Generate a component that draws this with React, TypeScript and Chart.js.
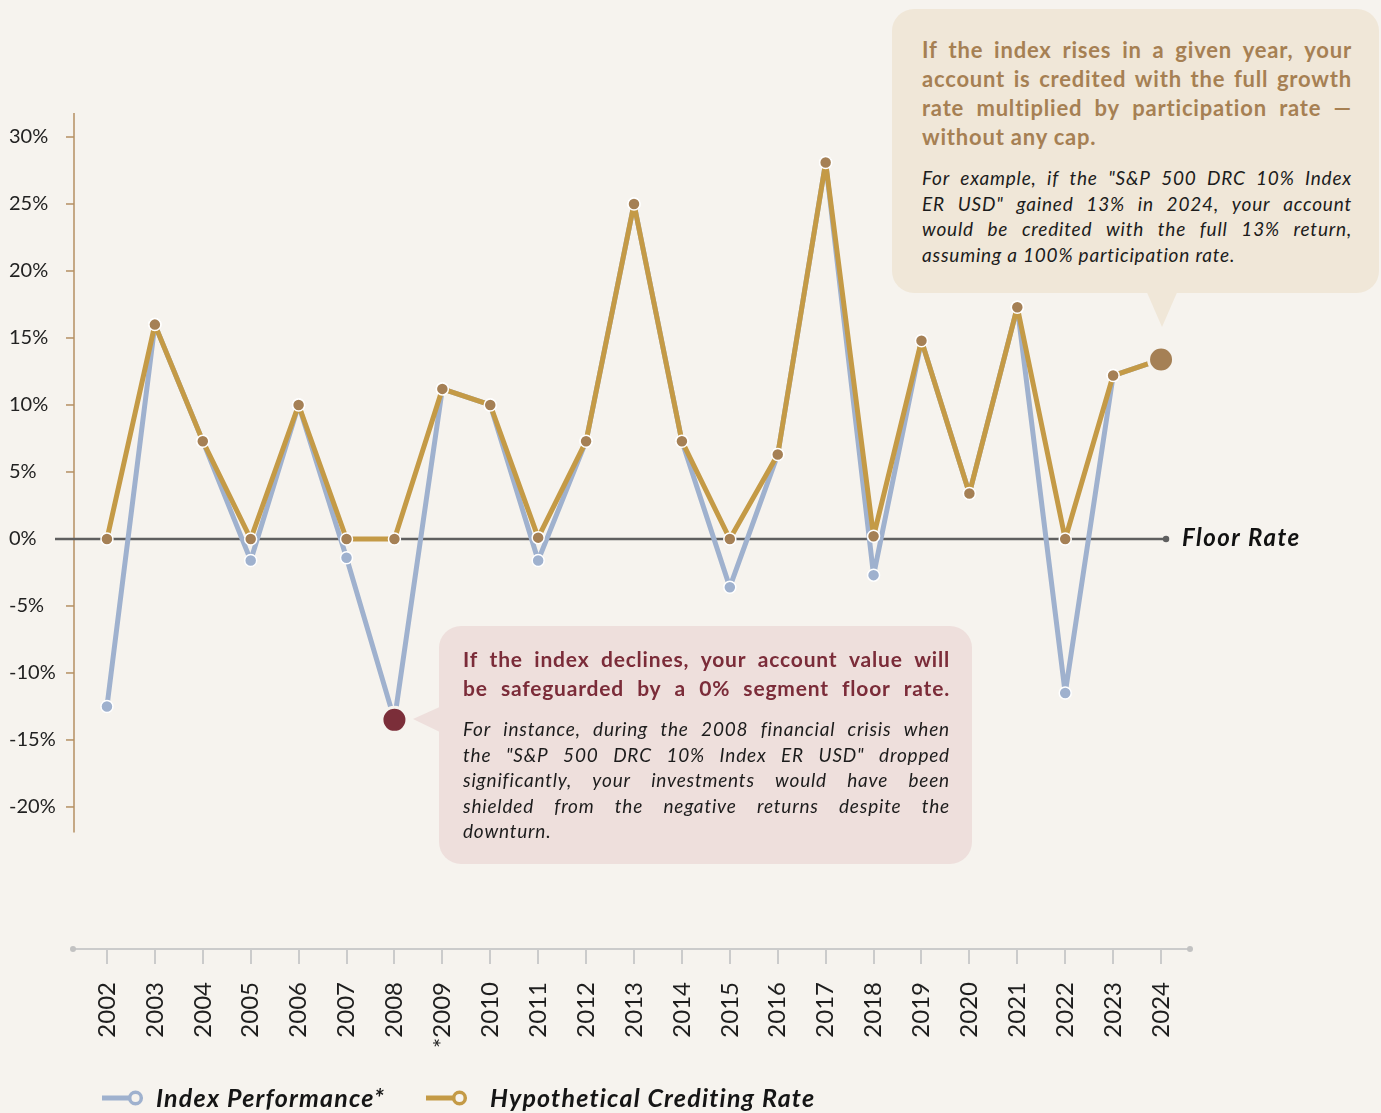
import React, { useEffect, useRef } from 'react';
import { Chart, registerables } from 'chart.js';

Chart.register(...registerables);

// ---------- data ----------
const years = [
  '2002', '2003', '2004', '2005', '2006', '2007', '2008', '*2009', '2010', '2011', '2012',
  '2013', '2014', '2015', '2016', '2017', '2018', '2019', '2020', '2021', '2022', '2023', '2024',
];
const indexPerformance = [
  -12.5, 16.0, 7.3, -1.6, 10.0, -1.4, -13.5, 11.2, 10.0, -1.6, 7.3,
  25.0, 7.3, -3.6, 6.3, 28.1, -2.7, 14.8, 3.4, 17.3, -11.5, 12.2, 13.4,
];
const creditingRate = [
  0, 16.0, 7.3, 0, 10.0, 0, 0, 11.2, 10.0, 0.1, 7.3,
  25.0, 7.3, 0, 6.3, 28.1, 0.2, 14.8, 3.4, 17.3, 0, 12.2, 13.4,
];
const yTickValues = [-20, -15, -10, -5, 0, 5, 10, 15, 20, 25, 30];
const declineHighlightYear = '2008';
const riseHighlightYear = '2024';
const seriesNames = ['Index Performance*', 'Hypothetical Crediting Rate'];
const floorLabel = 'Floor Rate';

const riseTitle = [
  'If the index rises in a given year, your',
  'account is credited with the full growth',
  'rate multiplied by participation rate —',
  'without any cap.',
];
const riseBody = [
  'For example, if the "S&P 500 DRC 10% Index',
  'ER USD" gained 13% in 2024, your account',
  'would be credited with the full 13% return,',
  'assuming a 100% participation rate.',
];
const declineTitle = [
  'If the index declines, your account value will',
  'be safeguarded by a 0% segment floor rate.',
];
const declineBody = [
  'For instance, during the 2008 financial crisis when',
  'the "S&P 500 DRC 10% Index ER USD" dropped',
  'significantly, your investments would have been',
  'shielded from the negative returns despite the',
  'downturn.',
];

// ---------- styling ----------
const BG = '#f6f3ee';
const BLUE = '#9fb1ce';
const GOLD_LINE = '#c49a46';
const GOLD_DOT = '#a58055';
const RED_DOT = '#7b2e39';
const AXIS_TAN = '#b48f62';
const FONT = 'Lato, "Open Sans", sans-serif';
const Y_AXIS_TOP = 31.8;
const Y_AXIS_BOTTOM = -21.9;

function JLine({ text, justify }: { text: string; justify: boolean }) {
  if (!justify) return <div style={{ whiteSpace: 'nowrap' }}>{text}</div>;
  const words = text.split(' ');
  return (
    <div style={{ display: 'flex', justifyContent: 'space-between', whiteSpace: 'nowrap' }}>
      {words.map((w, i) => (
        <span key={i}>{w}</span>
      ))}
    </div>
  );
}

function Block({ lines, lastJustify, style }: { lines: string[]; lastJustify: boolean; style: React.CSSProperties }) {
  return (
    <div style={{ position: 'absolute', ...style }}>
      {lines.map((l, i) => (
        <JLine key={i} text={l} justify={i < lines.length - 1 || lastJustify} />
      ))}
    </div>
  );
}

const decorPlugin = {
  id: 'decor',
  beforeDatasetsDraw(chart: any) {
    const { ctx, chartArea, scales } = chart;
    const y = scales.y;
    const x = scales.x;
    ctx.save();
    // y axis line + ticks
    const ax = chartArea.left - 9;
    ctx.strokeStyle = AXIS_TAN;
    ctx.lineWidth = 1.5;
    ctx.beginPath();
    ctx.moveTo(ax, y.getPixelForValue(Y_AXIS_TOP));
    ctx.lineTo(ax, y.getPixelForValue(Y_AXIS_BOTTOM));
    ctx.stroke();
    y.ticks.forEach((t: any) => {
      const py = y.getPixelForValue(t.value);
      ctx.beginPath();
      ctx.moveTo(ax - 8, py);
      ctx.lineTo(ax, py);
      ctx.stroke();
    });
    // x axis line with end dots
    const xb = chartArea.bottom;
    const xl = chartArea.left - 10;
    const xr = chartArea.right + 5;
    ctx.strokeStyle = '#cbcbcb';
    ctx.lineWidth = 2;
    ctx.beginPath();
    ctx.moveTo(xl, xb);
    ctx.lineTo(xr, xb);
    ctx.stroke();
    ctx.fillStyle = '#c2c2c2';
    [xl, xr].forEach((px) => {
      ctx.beginPath();
      ctx.arc(px, xb, 3, 0, Math.PI * 2);
      ctx.fill();
    });
    // floor (zero) line
    const y0 = y.getPixelForValue(0);
    const zl = ax - 19;
    const zr = x.getPixelForValue(years.length - 1) + 5;
    ctx.strokeStyle = '#5f5f5f';
    ctx.lineWidth = 2.5;
    ctx.beginPath();
    ctx.moveTo(zl, y0);
    ctx.lineTo(zr, y0);
    ctx.stroke();
    ctx.fillStyle = '#5f5f5f';
    ctx.beginPath();
    ctx.arc(zr, y0, 3.2, 0, Math.PI * 2);
    ctx.fill();
    ctx.fillStyle = '#111';
    ctx.font = `italic bold 24px ${FONT}`;
    ctx.textAlign = 'left';
    ctx.textBaseline = 'alphabetic';
    try {
      ctx.letterSpacing = '1.5px';
    } catch (e) {}
    ctx.fillText(floorLabel, zr + 16, y0 + 7);
    ctx.restore();
  },
};

export default function App() {
  const ref = useRef<HTMLCanvasElement | null>(null);

  useEffect(() => {
    if (!ref.current) return;
    const iDecl = years.indexOf(declineHighlightYear);
    const iRise = years.indexOf(riseHighlightYear);
    const blueRadius = years.map((_, i) => (i === iDecl ? 12.5 : 6));
    const blueBg = years.map((_, i) => (i === iDecl ? RED_DOT : BLUE));
    const blueBorder = years.map((_, i) => (i === iDecl ? BG : '#ffffff'));
    const blueBorderW = years.map((_, i) => (i === iDecl ? 3 : 1.5));
    const goldRadius = years.map((_, i) => (i === iRise ? 12.5 : 6));
    const goldBorder = years.map((_, i) => (i === iRise ? BG : '#ffffff'));
    const goldBorderW = years.map((_, i) => (i === iRise ? 3 : 1.5));

    const chart = new Chart(ref.current, {
      type: 'line',
      data: {
        labels: years,
        datasets: [
          {
            label: seriesNames[0],
            data: indexPerformance,
            borderColor: BLUE,
            borderWidth: 5,
            borderJoinStyle: 'round',
            tension: 0,
            pointRadius: blueRadius,
            pointBackgroundColor: blueBg,
            pointBorderColor: blueBorder,
            pointBorderWidth: blueBorderW,
            clip: false,
            order: 2,
          },
          {
            label: seriesNames[1],
            data: creditingRate,
            borderColor: GOLD_LINE,
            borderWidth: 5,
            borderJoinStyle: 'round',
            tension: 0,
            pointRadius: goldRadius,
            pointBackgroundColor: GOLD_DOT,
            pointBorderColor: goldBorder,
            pointBorderWidth: goldBorderW,
            clip: false,
            order: 1,
          },
        ],
      },
      options: {
        responsive: false,
        animation: false,
        devicePixelRatio: 1,
        layout: { padding: { left: 9, right: 196, top: 137, bottom: 64 } },
        plugins: {
          legend: { display: false },
          tooltip: { enabled: false },
          title: { display: false },
        },
        scales: {
          x: {
            type: 'category',
            offset: true,
            grid: {
              display: true,
              drawOnChartArea: false,
              drawTicks: true,
              tickLength: 15,
              color: '#cbcbcb',
              lineWidth: 2,
              offset: false,
            },
            border: { display: false },
            ticks: {
              autoSkip: false,
              maxRotation: 90,
              minRotation: 90,
              padding: 18,
              color: '#1e1e1e',
              font: { family: FONT, size: 24 },
            },
            afterFit: (s: any) => {
              s.height = 100;
            },
          },
          y: {
            type: 'linear',
            min: -30.6,
            max: 30,
            grid: { display: false },
            border: { display: false },
            afterBuildTicks: (s: any) => {
              s.ticks = yTickValues.map((v) => ({ value: v }));
            },
            afterFit: (s: any) => {
              s.width = 74;
            },
            ticks: {
              crossAlign: 'far',
              color: '#222',
              font: { family: FONT, size: 20 },
              callback: (v: any) => `${v}%`,
            },
          },
        },
      },
      plugins: [decorPlugin],
    } as any);
    return () => chart.destroy();
  }, []);

  const legendText: React.CSSProperties = {
    position: 'absolute',
    top: 1082,
    fontFamily: FONT,
    fontSize: 25,
    lineHeight: '30px',
    fontWeight: 700,
    fontStyle: 'italic',
    color: '#151515',
    whiteSpace: 'nowrap',
    letterSpacing: '1.2px',
  };

  return (
    <div
      style={{
        position: 'fixed',
        left: 0,
        top: 0,
        width: 1381,
        height: 1113,
        background: BG,
        overflow: 'hidden',
        fontFamily: FONT,
      }}
    >
      <canvas ref={ref} width={1381} height={1113} style={{ position: 'absolute', left: 0, top: 0 }} />
      <svg width={1381} height={1113} style={{ position: 'absolute', left: 0, top: 0, pointerEvents: 'none' }}>
        <polygon points="1145,288 1179,288 1162,327" fill="#f0e7d8" />
        <polygon points="444,705 444,734 413,719" fill="#eedfdc" />
        <line x1={102} y1={1098} x2={130} y2={1098} stroke={BLUE} strokeWidth={5} />
        <circle cx={135.5} cy={1098} r={5.8} fill={BG} stroke={BLUE} strokeWidth={3.5} />
        <line x1={426} y1={1098} x2={454} y2={1098} stroke={GOLD_LINE} strokeWidth={5} />
        <circle cx={459.5} cy={1098} r={5.8} fill={BG} stroke={GOLD_LINE} strokeWidth={3.5} />
      </svg>
      <div
        style={{
          position: 'absolute',
          left: 892,
          top: 9,
          width: 487,
          height: 284,
          borderRadius: 22,
          background: '#f0e7d8',
        }}
      >
        <Block
          lines={riseTitle}
          lastJustify={false}
          style={{ left: 30, top: 26, width: 430, fontSize: 22, lineHeight: '29px', fontWeight: 700, color: '#a68053', letterSpacing: '0.8px' }}
        />
        <Block
          lines={riseBody}
          lastJustify={false}
          style={{ left: 30, top: 156, width: 430, fontSize: 19, lineHeight: '25.5px', fontStyle: 'italic', color: '#1c1c1c', letterSpacing: '0.8px' }}
        />
      </div>
      <div
        style={{
          position: 'absolute',
          left: 439,
          top: 626,
          width: 533,
          height: 238,
          borderRadius: 22,
          background: '#eedfdc',
        }}
      >
        <Block
          lines={declineTitle}
          lastJustify={true}
          style={{ left: 24, top: 18, width: 487, fontSize: 21, lineHeight: '29px', fontWeight: 700, color: '#7b2c39', letterSpacing: '0.8px' }}
        />
        <Block
          lines={declineBody}
          lastJustify={false}
          style={{ left: 24, top: 90, width: 487, fontSize: 19, lineHeight: '25.5px', fontStyle: 'italic', color: '#1c1c1c', letterSpacing: '0.8px' }}
        />
      </div>
      <div style={{ ...legendText, left: 156 }}>{seriesNames[0]}</div>
      <div style={{ ...legendText, left: 490 }}>{seriesNames[1]}</div>
    </div>
  );
}
